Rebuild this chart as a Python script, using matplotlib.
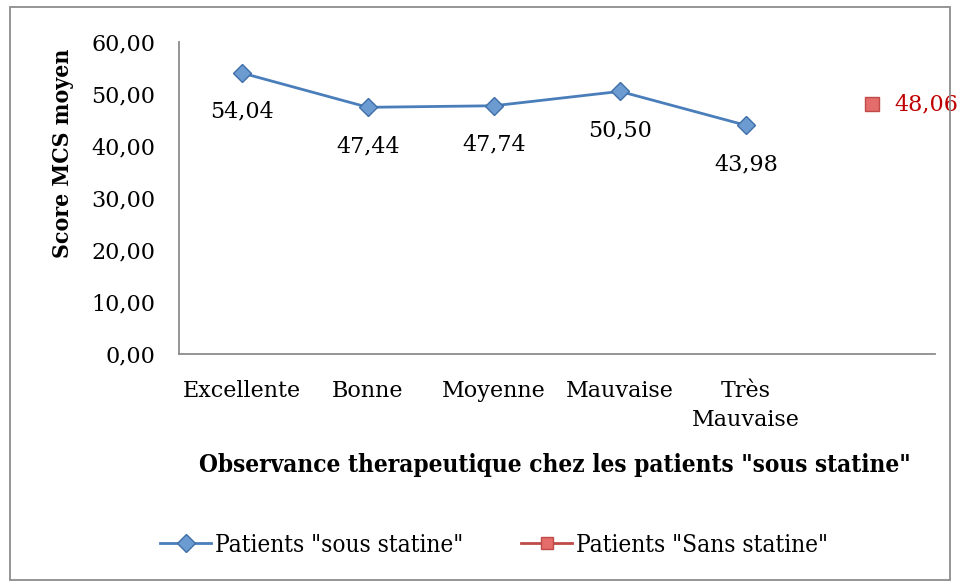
import matplotlib
matplotlib.use("Agg")
import matplotlib.pyplot as plt
from matplotlib.patches import Rectangle
from matplotlib.lines import Line2D

categories = ["Excellente", "Bonne", "Moyenne", "Mauvaise", "Très\nMauvaise", ""]
sous_statine = [54.04, 47.44, 47.74, 50.50, 43.98]
sans_statine = [48.06]
sans_index = [5]
yticks = [0, 10, 20, 30, 40, 50, 60]

serif = ["DejaVu Serif"]
W, H = 957, 583
fig = plt.figure(figsize=(W / 100, H / 100), dpi=100)
fig.patch.set_facecolor("white")

ax = fig.add_axes([179 / W, 1 - 354 / H, (935 - 179) / W, (354 - 42) / H])
x = list(range(len(sous_statine)))
blue_line = "#4A7EBB"
blue_fill = "#6C9BD2"
red_line = "#BE4B48"
red_fill = "#E46C6A"

ax.plot(x, sous_statine, color=blue_line, lw=2.0, marker="D", ms=9,
        markerfacecolor=blue_fill, markeredgecolor="#3F6FA8", mew=1.0, zorder=3)
ax.plot(sans_index, sans_statine, color=red_line, lw=2.0, marker="s", ms=10,
        markerfacecolor=red_fill, markeredgecolor=red_line, mew=1.0, ls="none", zorder=3)

for xi, v in zip(x, sous_statine):
    ax.annotate(f"{v:.2f}".replace(".", ","), (xi, v), xytext=(0, -28),
                textcoords="offset points", ha="center", va="center",
                fontsize=16, family=serif, color="black")
for xi, v in zip(sans_index, sans_statine):
    ax.annotate(f"{v:.2f}".replace(".", ","), (xi, v), xytext=(16, 0),
                textcoords="offset points", ha="left", va="center",
                fontsize=16, family=serif, color="#C00000")

ax.set_xlim(-0.5, len(categories) - 0.5)
ax.set_ylim(0, 60)
ax.set_yticks(yticks)
ax.set_yticklabels([f"{t:.2f}".replace(".", ",") for t in yticks], family=serif, fontsize=16)
ax.set_xticks(range(len(categories)))
ax.set_xticklabels(categories, family=serif, fontsize=16, linespacing=1.4, va="top")
ax.tick_params(axis="both", length=0)
ax.tick_params(axis="y", pad=17)
ax.tick_params(axis="x", pad=19)
for s in ["top", "right"]:
    ax.spines[s].set_visible(False)
for s in ["left", "bottom"]:
    ax.spines[s].set_color("#8C8C8C")
    ax.spines[s].set_linewidth(1.3)

fig.text(63 / W, 1 - 153 / H, "Score MCS moyen", rotation=90, ha="center", va="center",
         fontsize=16.5, fontweight="bold", family=serif, fontstretch="condensed")
fig.text(555 / W, 1 - 465 / H, 'Observance therapeutique chez les patients "sous statine"',
         ha="center", va="center", fontsize=17.5, fontweight="bold", family=serif,
         fontstretch="condensed")

handles = [
    Line2D([0], [0], color=blue_line, lw=2.0, marker="D", ms=9,
           markerfacecolor=blue_fill, markeredgecolor="#3F6FA8"),
    Line2D([0], [0], color=red_line, lw=2.0, marker="s", ms=9,
           markerfacecolor=red_fill, markeredgecolor=red_line),
]
fig.legend(handles, ['Patients "sous statine"', 'Patients "Sans statine"'],
           loc="center", bbox_to_anchor=(494 / W, 1 - 545 / H), ncol=2, frameon=False,
           prop={"family": serif, "size": 17.5, "stretch": "condensed"},
           handlelength=2.1, handletextpad=0.15, columnspacing=2.4)

fig.patches.append(Rectangle((10 / W, 1 - 580 / H), 940 / W, 573 / H, transform=fig.transFigure,
                             fill=False, edgecolor="#8C8C8C", lw=1.3))

fig.savefig("out.png", dpi=100)
